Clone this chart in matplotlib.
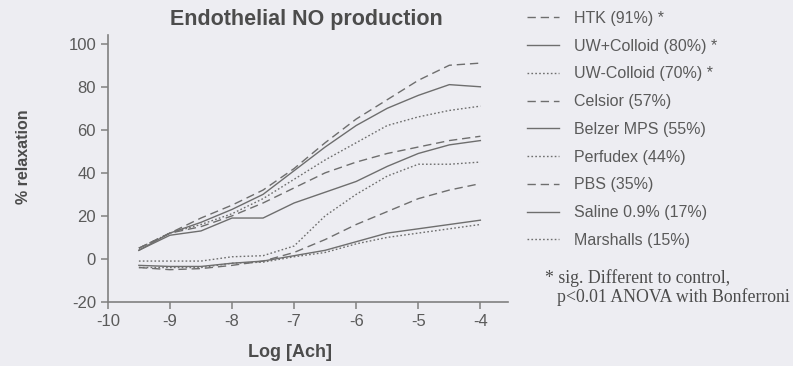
import matplotlib
matplotlib.use("Agg")
import matplotlib.pyplot as plt

plt.rcParams['axes.unicode_minus'] = False

# Log [Ach] concentrations
log_ach = [-9.5, -9, -8.5, -8, -7.5, -7, -6.5, -6, -5.5, -5, -4.5, -4]

# % relaxation per preservation solution
htk = [5, 12, 19, 25, 32, 42, 54, 65, 74, 83, 90, 91]
uw_colloid_plus = [4, 12, 17, 23, 30, 41, 52, 62, 70, 76, 81, 80]
uw_colloid_minus = [5, 12, 16, 21, 28, 37, 46, 54, 62, 66, 69, 71]
celsior = [5, 12, 15, 20, 26, 33, 40, 45, 49, 52, 55, 57]
belzer = [4, 11, 13, 19, 19, 26, 31, 36, 43, 49, 53, 55]
perfudex = [-1, -1, -1, 1, 1.5, 6, 20, 30, 38.5, 44, 44, 45]
pbs = [-4, -5, -4.5, -3, -1, 3, 9, 16, 22, 28, 32, 35]
saline = [-3, -3.5, -3.5, -2, -1, 1.5, 4, 8, 12, 14, 16, 18]
marshalls = [-4, -4, -4, -2, -1.5, 1, 3, 7, 10, 12, 14, 16]

labels = ['HTK (91%) *', 'UW+Colloid (80%) *', 'UW-Colloid (70%) *',
          'Celsior (57%)', 'Belzer MPS (55%)', 'Perfudex (44%)',
          'PBS (35%)', 'Saline 0.9% (17%)', 'Marshalls (15%)']
series = [htk, uw_colloid_plus, uw_colloid_minus, celsior, belzer,
          perfudex, pbs, saline, marshalls]

bg = '#ededf2'
line_col = '#6e6e6e'
txt_col = '#5a5a5a'

dash_styles = [(0, (6, 3.5)), '-', (0, (1.2, 1.6))]

fig = plt.figure(figsize=(7.93, 3.66), dpi=100, facecolor=bg)
ax = fig.add_axes([0.136, 0.175, 0.505, 0.729], facecolor=bg)

for i, (vals, lab) in enumerate(zip(series, labels)):
    ax.plot(log_ach, vals, color=line_col, lw=1.0,
            linestyle=dash_styles[i % 3], label=lab)

ax.set_xlim(-10, -3.55)
ax.set_ylim(-20, 104)
ax.set_xticks([-10, -9, -8, -7, -6, -5, -4])
ax.set_yticks([-20, 0, 20, 40, 60, 80, 100])
for s in ['top', 'right']:
    ax.spines[s].set_visible(False)
for s in ['left', 'bottom']:
    ax.spines[s].set_color('#808080')
    ax.spines[s].set_linewidth(1.2)
ax.tick_params(colors='#808080', labelcolor=txt_col, labelsize=12,
               length=5, width=1.1)
for t in ax.get_xticklabels() + ax.get_yticklabels():
    t.set_family('Liberation Sans')

fig.text(0.386, 0.947, 'Endothelial NO production', ha='center', va='center',
         fontsize=15.5, fontweight='bold', color='#4c4c4c', family='Liberation Sans')
fig.text(0.3655, 0.037, 'Log [Ach]', ha='center', va='center',
         fontsize=13, fontweight='bold', color='#4c4c4c', family='Liberation Sans')
fig.text(0.030, 0.571, '% relaxation', ha='center', va='center', rotation=90,
         fontsize=11.5, fontweight='bold', color='#4c4c4c', family='Liberation Sans')

leg = fig.legend(loc='upper left', bbox_to_anchor=(0.656, 0.988), frameon=False,
                 borderaxespad=0, handlelength=2.06, handletextpad=0.93,
                 labelspacing=0.8, prop={'family': 'Liberation Sans', 'size': 11.5})
for t in leg.get_texts():
    t.set_color(txt_col)

fig.text(0.687, 0.24, '* sig. Different to control,', fontsize=12.8,
         family='Liberation Serif', color='#4c4c4c', va='center')
fig.text(0.703, 0.188, 'p<0.01 ANOVA with Bonferroni', fontsize=12.8,
         family='Liberation Serif', color='#4c4c4c', va='center')

fig.savefig('out.png', dpi=100, facecolor=bg)
